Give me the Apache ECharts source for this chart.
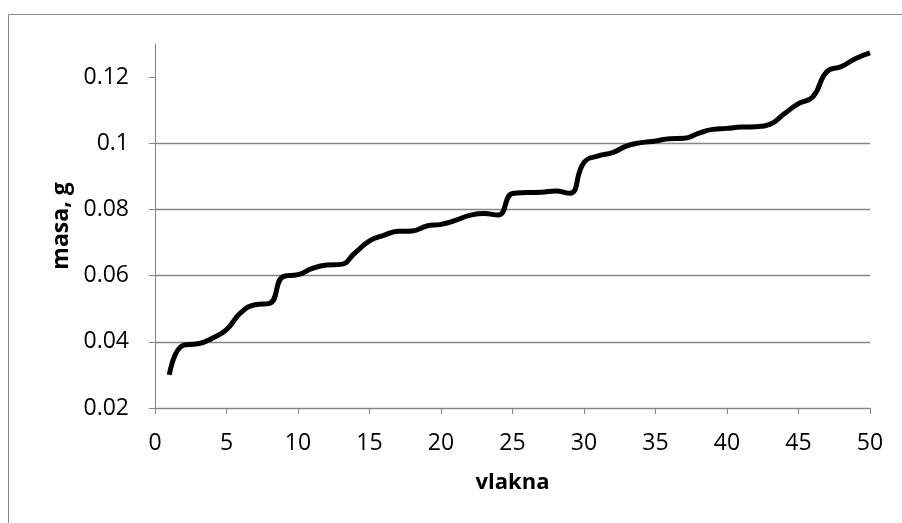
<!DOCTYPE html>
<html>
<head>
<meta charset="utf-8">
<script src="https://cdn.jsdelivr.net/npm/echarts@6/dist/echarts.min.js"></script>
<style>
html,body{margin:0;padding:0;background:#fff;}
#c{width:902px;height:523px;}
</style>
</head>
<body>
<div id="c"></div>
<script>
const vlakna = [1,2,3,4,5,6,7,8,9,10,11,12,13,14,15,16,17,18,19,20,21,22,23,24,25,26,27,28,29,30,31,32,33,34,35,36,37,38,39,40,41,42,43,44,45,46,47,48,49,50];
const masa = [0.0300,0.0390,0.0394,0.0411,0.0437,0.0488,0.0512,0.0516,0.0598,0.0603,0.0622,0.0632,0.0634,0.0669,0.0705,0.0722,0.0734,0.0735,0.0750,0.0755,0.0767,0.0782,0.0788,0.0783,0.0848,0.0851,0.0852,0.0856,0.0849,0.0942,0.0962,0.0972,0.0992,0.1002,0.1007,0.1014,0.1015,0.1030,0.1042,0.1045,0.1049,0.1050,0.1057,0.1089,0.1120,0.1140,0.1217,0.1232,0.1256,0.1273];
const yTicks = [0.02,0.04,0.06,0.08,0.10,0.12];

const chart = echarts.init(document.getElementById('c'), null, {renderer:'canvas'});
const gray = '#868686';
const font = 'Open Sans';
chart.setOption({
  animation:false,
  backgroundColor:'#fff',
  graphic:[{type:'rect',shape:{x:8.5,y:14.5,width:1000,height:700},style:{fill:'none',stroke:'#8a8a8a',lineWidth:1},silent:true}],
  grid:{left:155,right:32,top:44,bottom:115},
  xAxis:{
    type:'value',min:0,max:50,interval:5,
    name:'vlakna',nameLocation:'middle',nameGap:64,
    nameTextStyle:{fontFamily:font,fontWeight:'bold',fontSize:22,color:'#000'},
    axisLine:{show:true,lineStyle:{color:gray,width:1}},
    axisTick:{show:true,length:6,lineStyle:{color:gray}},
    axisLabel:{fontFamily:font,fontSize:23,color:'#000',margin:24},
    splitLine:{show:false}
  },
  yAxis:{
    type:'value',min:0.02,max:0.13,interval:0.02,
    name:'masa, g',nameLocation:'middle',nameGap:76,nameRotate:90,
    nameTextStyle:{fontFamily:font,fontWeight:'bold',fontSize:23,color:'#000'},
    axisLine:{show:true,lineStyle:{color:gray,width:1}},
    axisTick:{show:true,length:6,lineStyle:{color:gray},customValues:yTicks},
    axisLabel:{fontFamily:font,fontSize:23,color:'#000',margin:26,customValues:yTicks,
      formatter:v=>String(+v.toFixed(2))},
    splitLine:{show:true,showMaxLine:false,lineStyle:{color:gray,width:1.3}}
  },
  series:[{
    type:'line',smooth:true,showSymbol:false,symbol:'none',
    data:vlakna.map((x,i)=>[x,masa[i]]),
    lineStyle:{color:'#000',width:5},
    clip:false
  }]
});
</script>
</body>
</html>
